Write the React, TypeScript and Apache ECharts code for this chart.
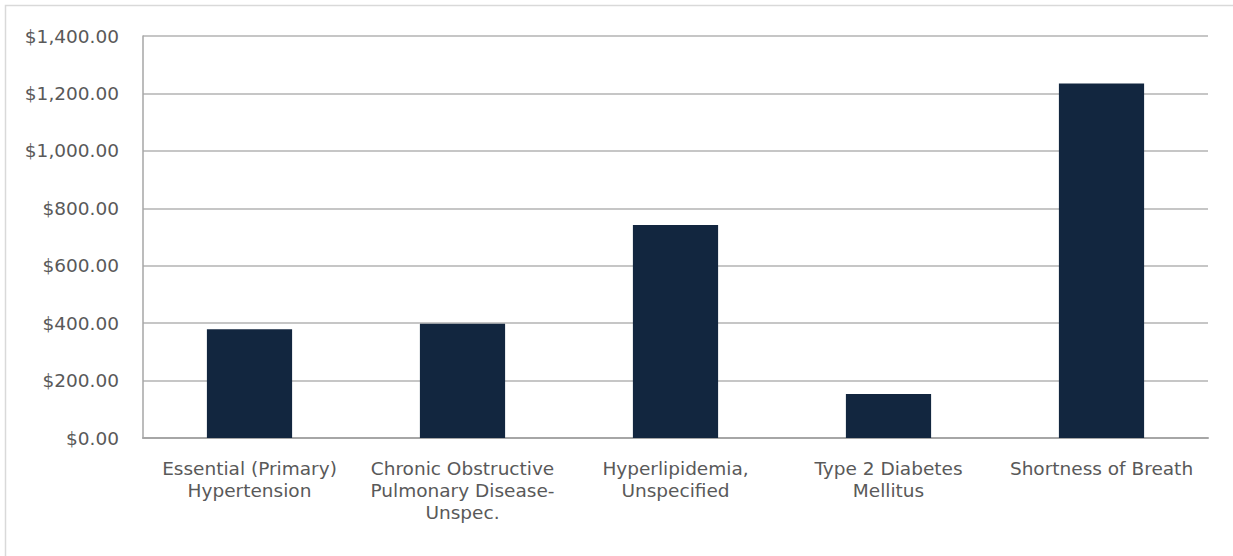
import React, { useEffect, useRef } from "react";
import * as echarts from "echarts";

const categories = [
  "Essential (Primary) Hypertension",
  "Chronic Obstructive Pulmonary Disease-Unspec.",
  "Hyperlipidemia, Unspecified",
  "Type 2 Diabetes Mellitus",
  "Shortness of Breath",
];
const categoryLabels = [
  "Essential (Primary)\nHypertension",
  "Chronic Obstructive\nPulmonary Disease-\nUnspec.",
  "Hyperlipidemia,\nUnspecified",
  "Type 2 Diabetes\nMellitus",
  "Shortness of Breath",
];
const values = [379, 398, 742, 153, 1235];
const yMin = 0;
const yMax = 1400;
const yStep = 200;

export default function App() {
  const ref = useRef<HTMLDivElement>(null);
  useEffect(() => {
    if (!ref.current) return;
    const chart = echarts.init(ref.current, null, { renderer: "svg" });
    const font = "'DejaVu Sans', sans-serif";
    chart.setOption({
      animation: false,
      backgroundColor: "#ffffff",
      graphic: [
        {
          type: "rect",
          shape: { x: 5.5, y: 5.5, width: 1400, height: 700 },
          style: { fill: "none", stroke: "#d9d9d9", lineWidth: 1.5 },
          silent: true,
        },
      ],
      grid: { left: 143, right: 25, top: 36, bottom: 118 },
      xAxis: {
        type: "category",
        data: categories,
        axisLine: { show: true, lineStyle: { color: "#a6a6a6", width: 2 } },
        axisTick: { show: false },
        axisLabel: {
          interval: 0,
          margin: 19,
          color: "#595959",
          fontFamily: font,
          fontSize: 18.5,
          lineHeight: 22,
          formatter: (_v: string, i: number) => categoryLabels[i],
        },
      },
      yAxis: {
        type: "value",
        min: yMin,
        max: yMax,
        interval: yStep,
        axisLine: { show: true, lineStyle: { color: "#a6a6a6", width: 1.5 } },
        axisTick: { show: false },
        splitLine: { lineStyle: { color: "#b3b3b3", width: 1.5 } },
        axisLabel: {
          margin: 24,
          color: "#595959",
          fontFamily: font,
          fontSize: 18.5,
          formatter: (v: number) =>
            "$" + v.toLocaleString("en-US", { minimumFractionDigits: 2, maximumFractionDigits: 2 }),
        },
      },
      series: [
        {
          type: "bar",
          data: values,
          barWidth: "40%",
          itemStyle: { color: "#12263f" },
        },
      ],
    });
    return () => chart.dispose();
  }, []);
  return (
    <div
      ref={ref}
      style={{ position: "absolute", left: 0, top: 0, width: 1233, height: 556 }}
    />
  );
}
